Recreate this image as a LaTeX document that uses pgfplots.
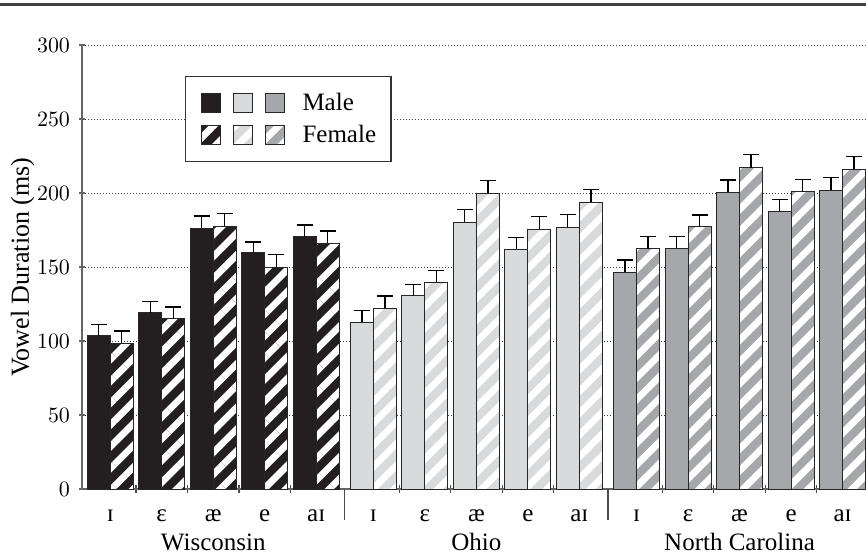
\documentclass[border=0pt]{standalone}
\usepackage{fontspec}
\setmainfont{Liberation Serif}
\usepackage{pgfplots}
\pgfplotsset{compat=1.18}
\usetikzlibrary{patterns.meta}

\definecolor{wis}{HTML}{231F20}
\definecolor{ohi}{HTML}{D9DADC}
\definecolor{ncl}{HTML}{A6A7AA}
\definecolor{edge}{HTML}{262626}

\pgfplotsset{
  sq/.style={legend image code/.code={\draw[##1] (0pt,-4.875pt) rectangle (9.75pt,4.875pt);}},
  eb/.style={error bars/.cd, y dir=plus, y explicit, error mark=-,
    error bar style={line width=0.6pt, black, solid},
    error mark options={line width=0.6pt, mark size=4pt, black, rotate=90}},
  mbar/.style={bar shift=-0.2235, fill=#1, draw=edge, line width=0.5pt, sq, eb},
  fbar/.style={bar shift=0.2235, preaction={fill=#1},
    pattern={Lines[angle=45,distance=7.7pt,line width=3.4pt]}, pattern color=white,
    draw=edge, line width=0.5pt, sq, eb},
}

\begin{document}
\begin{tikzpicture}
\begin{axis}[
  ybar, bar width=0.447,
  scale only axis, width=392pt, height=222pt,
  xmin=-0.5485, xmax=14.675, ymin=0, ymax=300,
  clip=false,
  axis x line*=bottom, axis y line*=left,
  axis line style={-, draw=black!60, line width=0.75pt},
  ytick={0,50,...,300},
  ymajorgrids,
  grid style={dash pattern=on 0.5pt off 1pt, black!75, line width=0.5pt},
  tick align=center,
  major tick length=3pt,
  y tick style={black!60, line width=0.6pt},
  xtick={0,1,2,3,4,5.11,6.11,7.11,8.11,9.11,10.22,11.22,12.22,13.22,14.22},
  xticklabels={ɪ,ɛ,æ,e,aɪ,ɪ,ɛ,æ,e,aɪ,ɪ,ɛ,æ,e,aɪ},
  major x tick style={draw=none},
  minor xtick={0.5,1.5,2.5,3.5,5.61,6.61,7.61,8.61,10.72,11.72,12.72,13.72},
  minor tick length=4pt,
  minor x tick style={black!70, line width=0.6pt},
  extra x ticks={4.555,9.665},
  extra x tick labels={},
  extra x tick style={tick align=outside, major tick length=15.5pt,
    major x tick style={draw=black!70, line width=0.6pt}},
  tick label style={font=\fontsize{11}{13}\selectfont},
  yticklabel style={xshift=-1pt},
  xticklabel style={font=\fontsize{12.5}{14}\selectfont, anchor=base, yshift=-14.6pt},
  ylabel={Vowel Duration (ms)},
  every axis y label/.style={at={(axis description cs:-0.0759,0.5)}, rotate=90, anchor=center,
    font=\fontsize{13}{15}\selectfont},
  legend columns=3,
  legend cell align=left,
  legend style={at={(axis description cs:0.1314,0.9309)}, anchor=north west,
    draw=black!80, line width=0.6pt, fill=white,
    inner xsep=7.5pt, inner ysep=8.3pt, column sep=2.4pt, row sep=5.65pt,
    font=\fontsize{12.5}{14}\selectfont, nodes={inner sep=0pt}},
]
% male bars
\addplot[mbar=wis] coordinates {(0,103.4) +- (0,8.0) (1,119.2) +- (0,7.4) (2,176.1) +- (0,8.4) (3,159.5) +- (0,7.4) (4,170.3) +- (0,8.1)};
\addlegendentry{\mbox{}}
\addplot[mbar=ohi] coordinates {(5.11,112.6) +- (0,7.9) (6.11,130.6) +- (0,7.5) (7.11,180.2) +- (0,8.5) (8.11,162.0) +- (0,8.1) (9.11,176.8) +- (0,8.8)};
\addlegendentry{\mbox{}}
\addplot[mbar=ncl] coordinates {(10.22,146.6) +- (0,8.1) (11.22,162.6) +- (0,7.9) (12.22,200.5) +- (0,8.3) (13.22,187.8) +- (0,7.9) (14.22,201.8) +- (0,8.6)};
\addlegendentry{\hspace{6.2pt}Male}
% female bars
\addplot[fbar=wis] coordinates {(0,98.4) +- (0,8.4) (1,115.1) +- (0,7.9) (2,177.7) +- (0,8.3) (3,149.8) +- (0,8.5) (4,166.0) +- (0,8.3)};
\addlegendentry{\mbox{}}
\addplot[fbar=ohi] coordinates {(5.11,122.3) +- (0,8.1) (6.11,139.6) +- (0,8.1) (7.11,200.0) +- (0,8.6) (8.11,175.5) +- (0,8.5) (9.11,193.7) +- (0,8.5)};
\addlegendentry{\mbox{}}
\addplot[fbar=ncl] coordinates {(10.22,162.4) +- (0,8.1) (11.22,177.5) +- (0,7.6) (12.22,217.1) +- (0,8.8) (13.22,200.7) +- (0,8.5) (14.22,216.0) +- (0,8.8)};
\addlegendentry{\hspace{6.2pt}Female}

% region names
\node[font=\fontsize{12.5}{14}\selectfont, anchor=base, yshift=-30.5pt] at (axis cs:2,0) {Wisconsin};
\node[font=\fontsize{12.5}{14}\selectfont, anchor=base, yshift=-30.5pt] at (axis cs:7.11,0) {Ohio};
\node[font=\fontsize{12.5}{14}\selectfont, anchor=base, yshift=-30.5pt] at (axis cs:12.22,0) {North Carolina};

% header rule
\draw[black!75, line width=1.25pt] (axis description cs:-0.1046,1.0912) -- (axis description cs:1,1.0912);
\coordinate (bb1) at (axis description cs:-0.1046,-0.1532);
\coordinate (bb2) at (axis description cs:1,1.1014);
\end{axis}
\pgfresetboundingbox
\useasboundingbox (bb1) rectangle (bb2);
\end{tikzpicture}
\end{document}
